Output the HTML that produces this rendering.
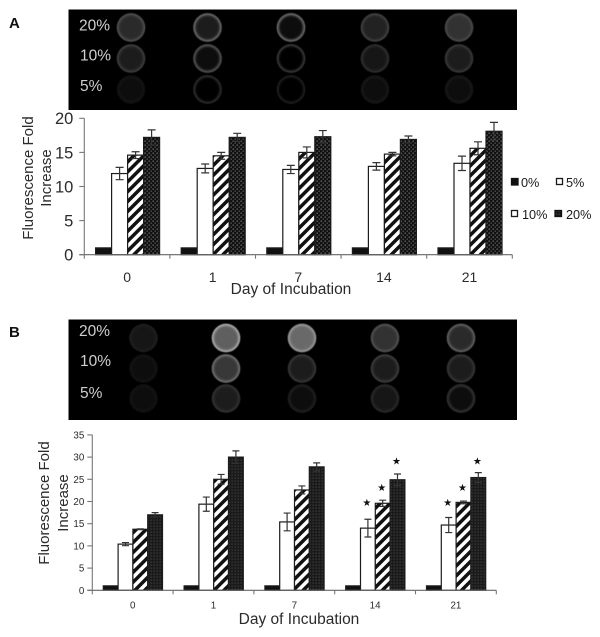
<!DOCTYPE html>
<html>
<head>
<meta charset="utf-8">
<title>Fluorescence Fold Increase</title>
<style>
html,body{margin:0;padding:0;background:#fff;width:600px;height:637px;overflow:hidden}
svg{display:block;filter:blur(0.35px)}
text{font-family:"Liberation Sans",sans-serif;fill:#2b2b2b}
</style>
</head>
<body>
<svg id="figure" xmlns="http://www.w3.org/2000/svg" width="600" height="637" viewBox="0 0 600 637">
<defs>
<pattern id="hatch" patternUnits="userSpaceOnUse" width="7" height="7" patternTransform="rotate(45)">
<rect width="7" height="7" fill="#fff"/><rect width="3.5" height="7" fill="#111"/>
</pattern>
<pattern id="dots" patternUnits="userSpaceOnUse" width="4" height="4">
<rect width="4" height="4" fill="#111"/><rect x="0.6" y="0.6" width="1.1" height="1.1" fill="#9a9a9a"/><rect x="2.6" y="2.6" width="1.1" height="1.1" fill="#777"/>
</pattern>
<pattern id="dotsB" patternUnits="userSpaceOnUse" width="3" height="3">
<rect width="3" height="3" fill="#1a1a1a"/><rect x="0.6" y="0.6" width="1" height="1" fill="#555"/>
</pattern>
<filter id="blurRing" x="-20%" y="-20%" width="140%" height="140%"><feGaussianBlur stdDeviation="0.5"/></filter>
<filter id="blurCore" x="-30%" y="-30%" width="160%" height="160%"><feGaussianBlur stdDeviation="1.2"/></filter>
</defs>

<text x="9" y="28" font-size="15" font-weight="bold" style="fill:#111">A</text>
<text x="9" y="337" font-size="15" font-weight="bold" style="fill:#111">B</text>

<rect x="68.5" y="9.5" width="448.5" height="100.5" fill="#000"/>
<rect x="68.5" y="319.5" width="448.5" height="100.5" fill="#000"/>
<g id="plates"></g>

<text x="79" y="30.5" font-size="15.5" style="fill:#cfcfcf">20%</text>
<text x="80" y="60.5" font-size="15.5" style="fill:#cfcfcf">10%</text>
<text x="80" y="91" font-size="15.5" style="fill:#cfcfcf">5%</text>
<text x="79" y="336" font-size="15.5" style="fill:#cfcfcf">20%</text>
<text x="80" y="366" font-size="15.5" style="fill:#cfcfcf">10%</text>
<text x="80" y="398" font-size="15.5" style="fill:#cfcfcf">5%</text>

<g id="chartA"></g>
<g id="chartB"></g>

<text transform="translate(33,178) rotate(-90)" text-anchor="middle" font-size="15">Fluorescence Fold</text>
<text transform="translate(51,178) rotate(-90)" text-anchor="middle" font-size="15">Increase</text>
<text x="291" y="294" text-anchor="middle" font-size="15.5">Day of Incubation</text>

<text transform="translate(49,503) rotate(-90)" text-anchor="middle" font-size="15">Fluorescence Fold</text>
<text transform="translate(68,503) rotate(-90)" text-anchor="middle" font-size="15">Increase</text>
<text x="299" y="624" text-anchor="middle" font-size="15.5">Day of Incubation</text>

<g>
<rect x="511.5" y="178.5" width="6.5" height="6.5" fill="#111" stroke="#111" stroke-width="1.3"/>
<text x="521" y="187" font-size="12.7" style="fill:#1a1a1a">0%</text>
<rect x="556.5" y="178.5" width="6" height="6" fill="#fff" stroke="#1a1a1a" stroke-width="1.3"/>
<text x="566" y="187" font-size="12.7" style="fill:#1a1a1a">5%</text>
<rect x="511.5" y="210.5" width="6" height="6" fill="#fff" stroke="#1a1a1a" stroke-width="1.3"/>
<text x="522" y="219" font-size="12.7" style="fill:#1a1a1a">10%</text>
<rect x="555" y="210.5" width="6.5" height="6" fill="url(#dotsB)" stroke="#111" stroke-width="1.3"/>
<text x="566" y="219" font-size="12.7" style="fill:#1a1a1a">20%</text>
</g>
</svg>

<script>
var categories = ['0', '1', '7', '14', '21'];
var seriesNames = ['0%', '5%', '10%', '20%'];

var aTicks = [0, 5, 10, 15, 20];
var aValues0 = [1, 1, 1, 1, 1];
var aValues5 = [11.9, 12.65, 12.5, 12.95, 13.4];
var aValues10 = [14.6, 14.5, 15.0, 14.75, 15.6];
var aValues20 = [17.2, 17.2, 17.3, 16.9, 18.1];
var aErrors0 = [0, 0, 0, 0, 0];
var aErrors5 = [0.9, 0.65, 0.6, 0.55, 1.05];
var aErrors10 = [0.5, 0.5, 0.8, 0.25, 0.95];
var aErrors20 = [1.1, 0.6, 0.9, 0.5, 1.3];

var bTicks = [0, 5, 10, 15, 20, 25, 30, 35];
var bValues0 = [1, 1, 1, 1, 1];
var bValues5 = [10.4, 19.4, 15.4, 14.0, 14.7];
var bValues10 = [13.75, 25.0, 22.6, 19.6, 19.8];
var bValues20 = [17.0, 30.0, 27.8, 24.9, 25.4];
var bErrors0 = [0, 0, 0, 0, 0];
var bErrors5 = [0.35, 1.6, 2.0, 2.0, 1.7];
var bErrors10 = [0.1, 1.1, 0.9, 0.7, 0.3];
var bErrors20 = [0.5, 1.4, 0.9, 1.3, 1.1];
var bStars5 = [null, null, null, 19.9, 19.9];
var bStars10 = [null, null, null, 23.3, 23.3];
var bStars20 = [null, null, null, 29.2, 29.2];

var plateARing20 = [90, 125, 135, 75, 80];
var plateACore20 = [42, 28, 12, 32, 48];
var plateARing10 = [70, 105, 70, 55, 65];
var plateACore10 = [28, 12, 6, 18, 28];
var plateARing5 = [22, 55, 38, 30, 28];
var plateACore5 = [16, 0, 6, 10, 12];
var plateBRing20 = [32, 190, 165, 90, 110];
var plateBCore20 = [20, 95, 105, 48, 42];
var plateBRing10 = [24, 125, 62, 70, 62];
var plateBCore10 = [10, 55, 30, 30, 28];
var plateBRing5 = [20, 55, 40, 48, 65];
var plateBCore5 = [8, 28, 16, 18, 15];

var NS = 'http://www.w3.org/2000/svg';

function make(parent, tag, attrs, text) {
  var node = document.createElementNS(NS, tag);
  for (var k in attrs) node.setAttribute(k, attrs[k]);
  if (text !== undefined) node.textContent = text;
  parent.appendChild(node);
  return node;
}

function drawPlate(prefix, wellXs, rowYs, rowNames, rings, cores) {
  var host = document.getElementById('plates');
  rowYs.forEach(function (y, r) {
    wellXs.forEach(function (x, c) {
      var g = make(host, 'g', {});
      
      
      var ring = rings[r][c];
      var core = cores[r][c];
      make(g, 'circle', {cx: x, cy: y, r: 14.2, fill: 'rgb(' + ring + ',' + ring + ',' + ring + ')', filter: 'url(#blurRing)'});
      make(g, 'circle', {cx: x, cy: y, r: 12.6, fill: 'rgb(' + core + ',' + core + ',' + core + ')', filter: 'url(#blurCore)'});
    });
  });
}

drawPlate('plate-a', [131, 207.5, 291, 375, 459], [27.5, 58.5, 89.5], ['20', '10', '5'],
  [plateARing20, plateARing10, plateARing5], [plateACore20, plateACore10, plateACore5]);
drawPlate('plate-b', [143.5, 226, 302, 385, 461], [338, 368.5, 398.5], ['20', '10', '5'],
  [plateBRing20, plateBRing10, plateBRing5], [plateBCore20, plateBCore10, plateBCore5]);

function drawChart(o) {
  var host = document.getElementById(o.id);
  var yOf = function (v) { return o.y0 - v * o.unit; };
  var groupLeft = function (i) { return o.x0 + i * o.groupW; };
  var fills = ['#111', '#fff', 'url(#hatch)', o.dotFill];

  o.values.forEach(function (series, s) {
    series.forEach(function (v, i) {
      var x = groupLeft(i) + o.inset + s * o.barW;
      var bar = make(host, 'rect', {x: x, y: yOf(v), width: o.barW, height: v * o.unit, fill: fills[s], stroke: '#1c1c1c', 'stroke-width': 1.2});
      
      
      var e = o.errors[s][i];
      if (e > 0) {
        var cx = x + o.barW / 2;
        var err = make(host, 'path', {
          d: 'M' + cx + ' ' + yOf(v + e) + 'V' + yOf(v - e) +
             'M' + (cx - o.cap) + ' ' + yOf(v + e) + 'H' + (cx + o.cap) +
             'M' + (cx - o.cap) + ' ' + yOf(v - e) + 'H' + (cx + o.cap),
          stroke: '#333', 'stroke-width': 1.2, fill: 'none'
        });
        
        
      }
    });
  });

  var yAxis = make(host, 'line', {x1: o.x0, x2: o.x0, y1: yOf(o.ticks[o.ticks.length - 1]), y2: o.y0, stroke: '#777', 'stroke-width': 1.1});
  
  
  var xEnd = groupLeft(categories.length);
  var xAxis = make(host, 'line', {x1: o.x0 - 5, x2: xEnd, y1: o.y0, y2: o.y0, stroke: '#666', 'stroke-width': 1.1});
  
  

  o.ticks.forEach(function (t) {
    make(host, 'line', {x1: o.x0 - 5, x2: o.x0, y1: yOf(t), y2: yOf(t), stroke: '#777', 'stroke-width': 1.1});
    var label = make(host, 'text', {x: o.x0 - o.tickGap, y: yOf(t) + o.tickFont * 0.36, 'text-anchor': 'end', 'font-size': o.tickFont}, String(t));
    
    
  });

  for (var i = 0; i <= categories.length; i++) {
    make(host, 'line', {x1: groupLeft(i), x2: groupLeft(i), y1: o.y0, y2: o.y0 + 4, stroke: '#777', 'stroke-width': 1.1});
  }

  categories.forEach(function (c, i) {
    var label = make(host, 'text', {x: groupLeft(i) + o.groupW / 2, y: o.catY, 'text-anchor': 'middle', 'font-size': o.catFont}, c);
    
    
  });

  (o.stars || []).forEach(function (list, s) {
    list.forEach(function (v, i) {
      if (v === null) return;
      var x = groupLeft(i) + o.inset + (s + 1) * o.barW + o.barW / 2 - 1;
      var star = make(host, 'text', {x: x, y: yOf(v) + 4, 'text-anchor': 'middle', 'font-size': 10, style: 'fill:#111;font-family:\'DejaVu Sans\',sans-serif'}, '\u2605');
      
      
    });
  });
}

drawChart({
  id: 'chartA', prefix: 'chart-a', x0: 84.3, y0: 254.7, unit: 6.82, groupW: 85.6, inset: 11.3, barW: 16, cap: 4,
  ticks: aTicks, tickFont: 16.5, tickGap: 11, catFont: 14, catY: 282, dotFill: 'url(#dots)',
  values: [aValues0, aValues5, aValues10, aValues20],
  errors: [aErrors0, aErrors5, aErrors10, aErrors20]
});

drawChart({
  id: 'chartB', prefix: 'chart-b', x0: 92.3, y0: 590.3, unit: 4.44, groupW: 80.8, inset: 11, barW: 14.8, cap: 3.5,
  ticks: bTicks, tickFont: 9.8, tickGap: 8, catFont: 9.8, catY: 608.5, dotFill: 'url(#dotsB)',
  values: [bValues0, bValues5, bValues10, bValues20],
  errors: [bErrors0, bErrors5, bErrors10, bErrors20],
  stars: [bStars5, bStars10, bStars20]
});
</script>
</body>
</html>
